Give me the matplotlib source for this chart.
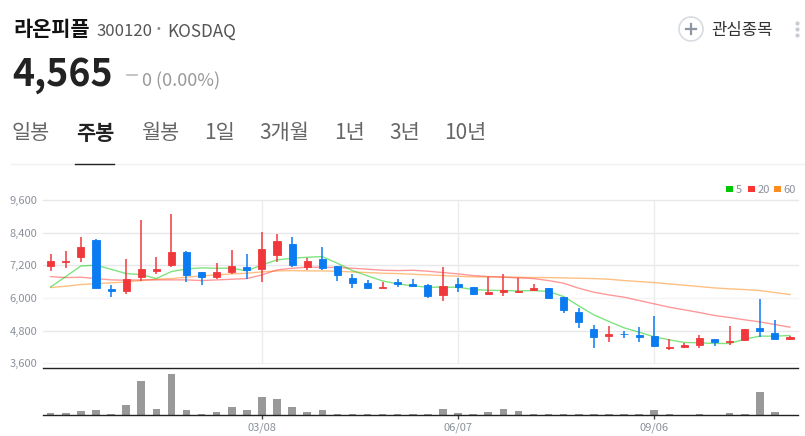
import numpy as np
import matplotlib
matplotlib.use('Agg')
import matplotlib.pyplot as plt
from matplotlib.patches import Rectangle, Circle

plt.rcParams['font.family'] = ['Noto Sans CJK KR', 'DejaVu Sans']

# 주봉 시세
opens = [7180, 7325, 7495, 8130, 6345, 6275, 6775, 7005, 7225, 7680,
         6960, 6785, 6960, 7140, 7080, 7595, 7985, 7140, 7435, 7180,
         6740, 6555, 6385, 6580, 6520, 6470, 6115, 6520, 6395, 6165,
         6235, 6235, 6300, 6370, 6040, 5490, 4855, 4620, 4695, 4645,
         4610, 4145, 4205, 4255, 4500, 4380, 4450, 4905, 4710, 4510]
highs = [7620, 7740, 8230, 8180, 6470, 7425, 8855, 7495, 9085, 7715,
         6960, 7275, 7755, 7605, 8425, 8355, 8230, 7460, 7875, 7180,
         6885, 6665, 6580, 6700, 6700, 6520, 7130, 6740, 6395, 6785,
         6885, 6740, 6520, 6370, 6040, 5635, 5000, 4975, 4780, 4930,
         5355, 4490, 4340, 4635, 4510, 4975, 4865, 5970, 5185, 4610]
lows = [7005, 7095, 7335, 6360, 6030, 6150, 6640, 6895, 7155, 6605,
        6470, 6690, 6895, 6715, 6605, 7335, 7140, 7030, 7030, 6640,
        6385, 6345, 6385, 6420, 6395, 6015, 5905, 6235, 6100, 6100,
        6055, 6190, 6260, 5980, 5465, 4915, 4160, 4400, 4525, 4400,
        4215, 4085, 4145, 4180, 4220, 4290, 4425, 4585, 4510, 4465]
closes = [7360, 7360, 7865, 6360, 6275, 6700, 7070, 7080, 7690, 6850,
          6775, 6960, 7180, 7030, 7790, 8095, 7205, 7375, 7105, 6835,
          6565, 6385, 6410, 6520, 6455, 6090, 6455, 6410, 6165, 6225,
          6285, 6275, 6370, 5990, 5575, 5100, 4585, 4695, 4660, 4585,
          4220, 4195, 4255, 4525, 4390, 4415, 4855, 4805, 4510, 4565]

# 이동평균선
ma5 = [6408, 6787, 7178, 7203, 7056, 6897, 6860, 6714, 6971, 7068,
       7105, 7093, 7093, 6995, 7215, 7399, 7460, 7496, 7521, 7276,
       7007, 6812, 6628, 6518, 6445, 6396, 6396, 6396, 6310, 6286,
       6273, 6261, 6273, 6237, 6053, 5711, 5381, 5136, 4904, 4745,
       4573, 4463, 4366, 4354, 4329, 4329, 4488, 4598, 4598, 4622]
ma20 = [6787, 6750, 6763, 6714, 6665, 6653, 6665, 6665, 6665, 6665,
        6640, 6665, 6689, 6714, 6848, 7032, 7093, 7130, 7130, 7118,
        7093, 7056, 7019, 7007, 7019, 6983, 6934, 6885, 6824, 6787,
        6763, 6738, 6714, 6640, 6542, 6359, 6212, 6114, 6029, 5907,
        5784, 5662, 5564, 5466, 5356, 5283, 5197, 5124, 5026, 4928]
ma60 = [6384, 6432, 6494, 6530, 6555, 6591, 6640, 6689, 6714, 6763,
        6812, 6848, 6885, 6909, 6958, 6995, 7007, 6995, 6995, 6983,
        6958, 6934, 6909, 6897, 6873, 6848, 6824, 6799, 6775, 6775,
        6775, 6763, 6750, 6750, 6738, 6726, 6714, 6689, 6640, 6604,
        6567, 6518, 6469, 6420, 6371, 6335, 6310, 6273, 6200, 6127]

# 거래량
volumes = [6, 6, 12, 14, 3, 30, 102, 18, 123, 14,
           4, 9, 25, 15, 53, 48, 23, 8, 14, 4,
           4, 4, 3, 3, 3, 4, 18, 6, 3, 9,
           18, 12, 4, 4, 3, 3, 4, 3, 3, 3,
           15, 3, 0, 3, 0, 6, 4, 69, 9, 0]

price_ticks = [3600, 4800, 6000, 7200, 8400, 9600]
date_positions = [14, 27, 40]
date_labels = ['03/08', '06/07', '09/06']
tabs = ['일봉', '주봉', '월봉', '1일', '3개월', '1년', '3년', '10년']
tab_lefts = [12, 76, 141, 204, 259, 334, 389, 444]

RED = '#f0383c'
BLUE = '#0a7bf0'
GRAY = '#8b919c'
W, H = 805, 436


def px_axes(fig, left, top, right, bottom):
    # 픽셀 좌표로 축 위치 지정
    return fig.add_axes([left / W, 1 - bottom / H, (right - left) / W, (bottom - top) / H])


fig = plt.figure(figsize=(W / 100, H / 100), dpi=100, facecolor='white')

# 헤더 영역
top = fig.add_axes([0, 0, 1, 1])
top.set_xlim(0, W)
top.set_ylim(H, 0)
top.axis('off')

top.text(13.5, 29, '라온피플', fontsize=15, fontweight='bold', color='#111111', va='center')
top.text(96, 31.5, '300120', fontsize=12, color='#555555', va='center')
top.text(158, 30, '·', fontsize=12, color='#888888', va='center', ha='center', fontweight='bold')
top.text(167, 31.5, 'KOSDAQ', fontsize=12.3, color='#555555', va='center')
top.text(12, 74, '4,565', fontsize=27, fontweight='bold', color='#222222', va='center')
top.plot([127, 137], [75, 75], color='#bbbbbb', lw=1.2)
top.text(142, 81, '0 (0.00%)', fontsize=13, color='#999999', va='center')

for label, left in zip(tabs, tab_lefts):
    selected = label == '주봉'
    top.text(left, 133, label, fontsize=15, va='center',
             fontweight='bold' if selected else 'normal',
             color='#222222' if selected else '#666666')
top.plot([11, W], [164.5, 164.5], color='#f0f0f0', lw=1)
top.plot([75, 114], [164, 164], color='#222222', lw=1)

# 관심종목 버튼
top.add_patch(Circle((691, 29), 12, fill=False, edgecolor='#d8dbe1', lw=1.2))
top.plot([686, 696], [29, 29], color='#8c95a3', lw=1.6)
top.plot([691, 691], [24, 34], color='#8c95a3', lw=1.6)
top.text(711, 30, '관심종목', fontsize=12, color='#333333', va='center')
top.scatter([797, 797, 797], [23, 29, 35], s=9, color='#c8ccd2', linewidths=0)

# 범례
for left, color, label in [(726, '#00c800', '5'), (748, '#ff3535', '20'), (774, '#ff8c1e', '60')]:
    top.add_patch(Rectangle((left, 186), 6.5, 6.5, color=color, lw=0))
    top.text(left + 9.5, 189.5, label, fontsize=8, color=GRAY, va='center')

# 가격 차트
x = np.arange(len(opens))
ax = px_axes(fig, 43, 200, 798, 368.3)
ax.set_xlim(-0.51, 49.53)
ax.set_ylim(3417, 9600)
ax.patch.set_alpha(0)

for p in price_ticks:
    ax.axhline(p, color='#f4f4f6' if p in (3600, 6000) else '#e8e8ec', lw=1, zorder=1, clip_on=False)
for pos in date_positions:
    ax.plot([pos, pos], [3600, 9600], color='#ececec', lw=1, zorder=1)

ax.plot(x, ma60, color='#ff8c1e', lw=1, alpha=0.55, zorder=2)
ax.plot(x, ma20, color='#ff3535', lw=1, alpha=0.5, zorder=2)
ax.plot(x, ma5, color='#00c800', lw=1, alpha=0.5, zorder=2)

o, c = np.array(opens), np.array(closes)
colors = [RED if cl > op else BLUE for op, cl in zip(opens, closes)]
ax.vlines(x, lows, highs, colors=colors, lw=1.1, zorder=3)
ax.bar(x, np.abs(c - o), bottom=np.minimum(o, c), width=0.47, color=colors,
       edgecolor=colors, linewidth=0.6, zorder=4)

ax.set_yticks(price_ticks)
ax.set_yticklabels([f'{p:,}' for p in price_ticks], fontsize=8, color=GRAY)
ax.tick_params(axis='y', length=0, pad=4)
ax.set_xticks([])
for name in ('top', 'left', 'right'):
    ax.spines[name].set_visible(False)
ax.spines['bottom'].set_color('#222222')
ax.spines['bottom'].set_linewidth(1)

# 거래량 차트
vol = px_axes(fig, 43, 369, 798, 415)
vol.set_xlim(-0.51, 49.53)
vol.set_ylim(0, 138)
vol.patch.set_alpha(0)
vol.bar(x, volumes, width=0.5, color='#999999')
vol.set_yticks([])
vol.set_xticks(date_positions)
vol.set_xticklabels(date_labels, fontsize=8, color=GRAY)
vol.tick_params(axis='x', length=3, width=1, color='#444444', pad=2.5)
for name in ('top', 'left', 'right'):
    vol.spines[name].set_visible(False)
vol.spines['bottom'].set_color('#222222')
vol.spines['bottom'].set_linewidth(1)

plt.savefig('out.png', dpi=100)
